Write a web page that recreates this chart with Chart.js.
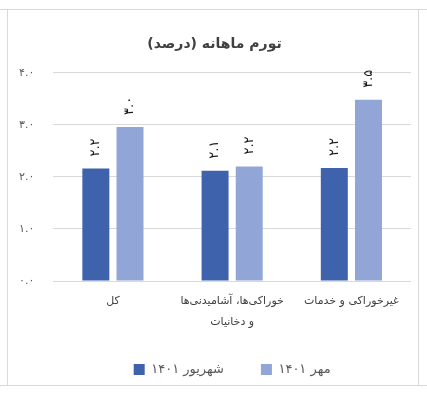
<!DOCTYPE html>
<html lang="fa">
<head>
    <meta charset="UTF-8">
    <title>تورم ماهانه (درصد)</title>
    <script src="https://cdn.jsdelivr.net/npm/chart.js"></script>
    <style>
        body { margin: 0; background: #fff; }
        #wrap { position: relative; width: 427px; height: 395px; overflow: hidden; }
        .line { position: absolute; background: #d9d9d9; }
        #chartBox { position: absolute; left: 0; top: 0; width: 427px; height: 395px; }
    </style>
</head>
<body>
<div id="wrap">
    <div class="line" style="left:0; top:9px; width:427px; height:1px;"></div>
    <div class="line" style="left:7px; top:9px; width:1px; height:377px;"></div>
    <div class="line" style="left:418px; top:9px; width:1px; height:377px;"></div>
    <div class="line" style="left:0; top:385px; width:427px; height:1px;"></div>
    <div id="chartBox"><canvas id="myChart" width="427" height="395"></canvas></div>
</div>

<script>
    // data
    const categories = [
        'کل',
        ['خوراکی‌ها، آشامیدنی‌ها', 'و دخانیات'],
        'غیرخوراکی و خدمات'
    ];
    const seriesNames = ['شهریور ۱۴۰۱', 'مهر ۱۴۰۱'];
    const shahrivar = [2.16, 2.12, 2.17];
    const mehr = [2.96, 2.2, 3.48];
    const yTicks = [0, 1, 2, 3, 4];

    const fontFamily = '"DejaVu Sans", sans-serif';

    // Latin digits -> Persian digits
    function faDigits(s) {
        return String(s).replace(/[0-9]/g, d => '۰۱۲۳۴۵۶۷۸۹'[d]);
    }

    // rotated value labels above the bars
    const barLabels = {
        id: 'barLabels',
        afterLayout(chart) {
            // title sits over the middle of the frame, not the padded box
            chart.titleBlock.left += 9;
            chart.titleBlock.right += 9;
        },
        afterDatasetsDraw(chart) {
            const ctx = chart.ctx;
            ctx.save();
            ctx.fillStyle = '#1a1a1a';
            ctx.font = '13px ' + fontFamily;
            ctx.textAlign = 'left';
            ctx.textBaseline = 'middle';
            chart.data.datasets.forEach((ds, i) => {
                chart.getDatasetMeta(i).data.forEach((bar, j) => {
                    ctx.save();
                    ctx.translate(bar.x, bar.y - 12);
                    ctx.rotate(-Math.PI / 2);
                    ctx.fillText(faDigits(ds.data[j].toFixed(1)), 0, 0);
                    ctx.restore();
                });
            });
            ctx.restore();
        }
    };

    const ctx = document.getElementById('myChart').getContext('2d');
    new Chart(ctx, {
        type: 'bar',
        data: {
            labels: categories,
            datasets: [
                {
                    label: seriesNames[0],
                    data: shahrivar,
                    backgroundColor: '#3F62AC',
                    barPercentage: 0.79,
                    categoryPercentage: 0.573
                },
                {
                    label: seriesNames[1],
                    data: mehr,
                    backgroundColor: '#91A6D6',
                    barPercentage: 0.79,
                    categoryPercentage: 0.573
                }
            ]
        },
        options: {
            responsive: false,
            animation: false,
            layout: { padding: { left: 0, right: 16, top: 28, bottom: 9 } },
            scales: {
                x: {
                    grid: { display: false },
                    border: { display: false },
                    ticks: {
                        color: '#404040',
                        font: { family: fontFamily, size: 11, lineHeight: 1.9 },
                        padding: 2,
                        maxRotation: 0
                    },
                    afterFit: scale => {
                        scale.height = 45;
                        // let the two-line label run past the axis box
                        scale._computeLabelArea = () => null;
                    }
                },
                y: {
                    min: 0,
                    max: 4,
                    afterBuildTicks: scale => { scale.ticks = yTicks.map(v => ({ value: v })); },
                    grid: { color: '#d9d9d9', drawTicks: false },
                    border: { display: false },
                    ticks: {
                        color: '#595959',
                        font: { family: fontFamily, size: 11 },
                        padding: 19,
                        callback: v => faDigits(v.toFixed(1))
                    }
                }
            },
            plugins: {
                title: {
                    display: true,
                    text: 'تورم ماهانه (درصد)',
                    color: '#404040',
                    font: { family: fontFamily, size: 14, weight: 'bold' },
                    padding: { top: 8, bottom: 20 }
                },
                legend: {
                    position: 'bottom',
                    fullSize: false,
                    labels: {
                        boxWidth: 11,
                        boxHeight: 11,
                        padding: 37,
                        color: '#595959',
                        font: { family: fontFamily, size: 13 }
                    }
                },
                tooltip: { enabled: false }
            }
        },
        plugins: [barLabels]
    });
</script>
</body>
</html>
